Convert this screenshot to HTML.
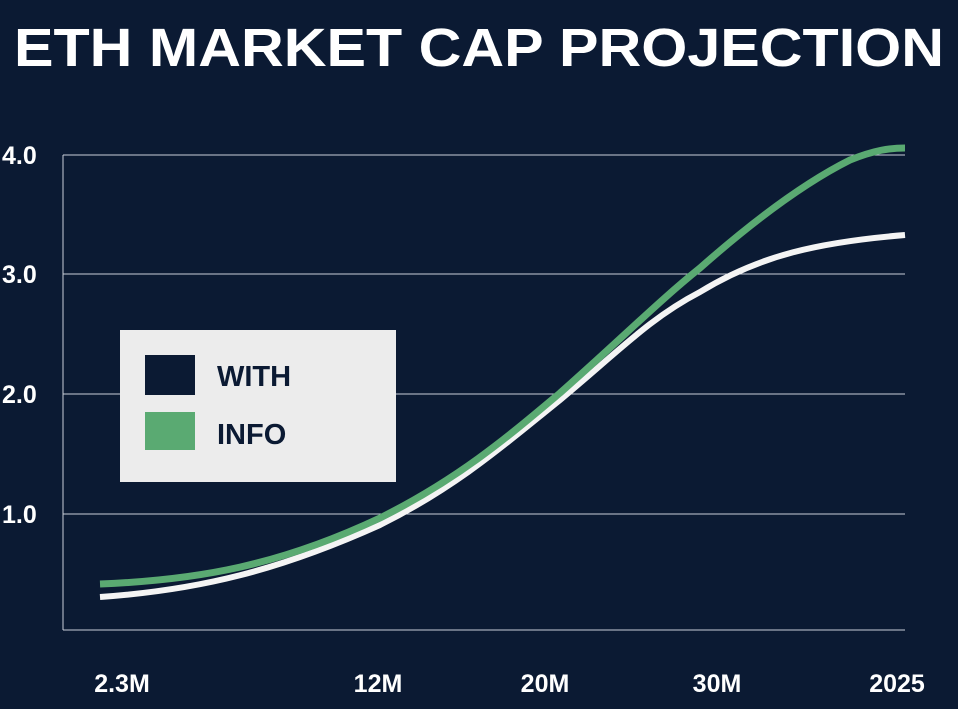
<!DOCTYPE html>
<html><head><style>
body{margin:0;width:958px;height:704px;background:#0b1a33;overflow:hidden;font-family:"Liberation Sans",sans-serif;}
</style></head><body>
<svg width="958" height="704" viewBox="0 0 958 704" xmlns="http://www.w3.org/2000/svg">
<rect width="958" height="704" fill="#0b1a33"/>
<text x="479" y="66" text-anchor="middle" fill="#fff" font-family="Liberation Sans" font-weight="bold" font-size="54" textLength="930" lengthAdjust="spacingAndGlyphs">ETH MARKET CAP PROJECTION</text>
<g stroke="#c9ced8" stroke-width="1">
<line x1="63" y1="155" x2="905" y2="155"/>
<line x1="63" y1="274" x2="905" y2="274"/>
<line x1="63" y1="394" x2="905" y2="394"/>
<line x1="63" y1="514" x2="905" y2="514"/>
<line x1="63" y1="630" x2="905" y2="630"/>
<line x1="63" y1="155" x2="63" y2="630"/>
</g>
<g fill="#fff" font-weight="bold" font-size="25">
<text x="2" y="164">4.0</text>
<text x="2" y="283">3.0</text>
<text x="2" y="403">2.0</text>
<text x="2" y="523">1.0</text>
<text x="122" y="692" text-anchor="middle">2.3M</text>
<text x="378" y="692" text-anchor="middle">12M</text>
<text x="545" y="692" text-anchor="middle">20M</text>
<text x="717" y="692" text-anchor="middle">30M</text>
<text x="897" y="692" text-anchor="middle">2025</text>
</g>
<path d="M100,597 C200,590 280,570 380,525 C460,485 510,440 560,400 C620,350 650,318 700,292 C760,255 820,242 905,235" fill="none" stroke="#f4f4f4" stroke-width="6"/>
<path d="M100,584 C200,580 280,565 380,518 C460,478 510,435 560,393 C620,340 660,300 700,268 C760,215 810,180 850,160 C875,150 890,148 905,148" fill="none" stroke="#5aaa72" stroke-width="7"/>
<rect x="120" y="330" width="276" height="152" fill="#ececec"/>
<rect x="145" y="355" width="50" height="40" fill="#0b1a33"/>
<rect x="145" y="412" width="50" height="38" fill="#5aaa72"/>
<g fill="#0b1a33" font-weight="bold" font-size="29">
<text x="217" y="386">WITH</text>
<text x="217" y="444">INFO</text>
</g>
</svg>
</body></html>
